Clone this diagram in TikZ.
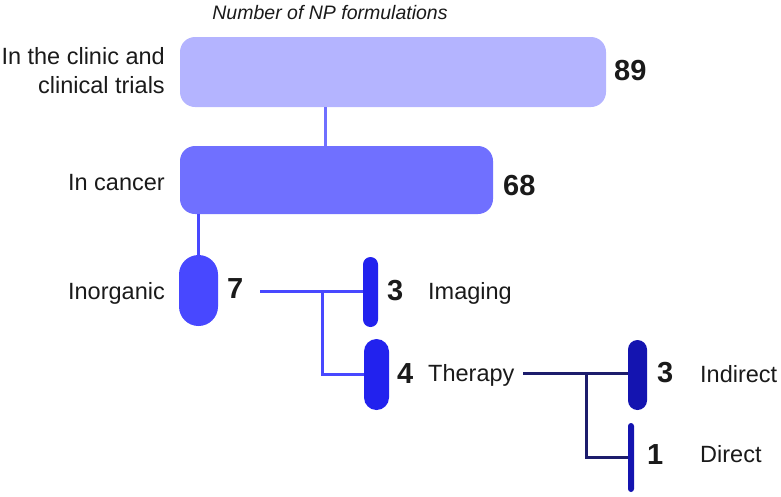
\documentclass[tikz,border=0pt]{standalone}
\usepackage{fontspec}
\setmainfont{Liberation Sans}
\definecolor{ink}{HTML}{1A1A1A}
\definecolor{clinicfill}{HTML}{B4B4FF}
\definecolor{cancerfill}{HTML}{7070FF}
\definecolor{inorgfill}{HTML}{4848FF}
\definecolor{imagfill}{HTML}{2222EE}
\definecolor{indfill}{HTML}{1414B0}
\definecolor{navy}{HTML}{1C1C6C}
\begin{document}
\begin{tikzpicture}[x=1pt,y=-1pt,
  bar/.style={fill=#1, draw=none, inner sep=0pt},
  lab/.style={font=\fontsize{23.5}{29}\selectfont, text=ink, inner sep=0pt},
  num/.style={font=\fontsize{29}{30}\selectfont\bfseries, text=ink, inner sep=0pt},
  link/.style={line width=3pt, draw=#1}]
\useasboundingbox (0,0) rectangle (781,496);
%\small
\node[font=\fontsize{19.5}{22}\selectfont\itshape, text=ink, inner sep=0pt, anchor=base] (title) at (330,19) {Number of NP formulations};
\node[bar=clinicfill, minimum width=426pt, minimum height=70pt, rounded corners=15pt] (clinic) at (393,72) {};
\node[bar=cancerfill, minimum width=313pt, minimum height=68pt, rounded corners=15pt] (cancer) at (336.5,180) {};
\node[bar=inorgfill, minimum width=39pt, minimum height=71pt, rounded corners=19.5pt] (inorg) at (198.5,290.5) {};
\node[bar=imagfill, minimum width=15pt, minimum height=70pt, rounded corners=7.5pt] (imaging) at (370.5,292) {};
\node[bar=imagfill, minimum width=25pt, minimum height=71pt, rounded corners=12.5pt] (therapy) at (376.5,374.5) {};
\node[bar=indfill, minimum width=19pt, minimum height=70pt, rounded corners=9.5pt] (indirect) at (637.5,375) {};
\node[bar=indfill, minimum width=6pt, minimum height=69pt, rounded corners=3pt] (direct) at (631,457.5) {};
% labels
\node[lab, align=right, anchor=east] (clinicLab) at (165,71) {In the clinic and\\clinical trials};
\node[lab, anchor=base east] (cancerLab) at (165,190) {In cancer};
\node[lab, anchor=base east] (inorgLab) at (165,299) {Inorganic};
\node[lab, anchor=base west] (imagingLab) at (428,299) {Imaging};
\node[lab, anchor=base west] (therapyLab) at (428,381) {Therapy};
\node[lab, anchor=base west] (indirectLab) at (700,382) {Indirect};
\node[lab, anchor=base west] (directLab) at (700,462) {Direct};
\node[num, anchor=base west] (nClinic) at (614,80) {89};
\node[num, anchor=base west] (nCancer) at (503,195) {68};
\node[num, anchor=base west] (nInorg) at (227,298) {7};
\node[num, anchor=base west] (nImaging) at (387,300) {3};
\node[num, anchor=base west] (nTherapy) at (397,383) {4};
\node[num, anchor=base west] (nIndirect) at (657,382) {3};
\node[num, anchor=base west] (nDirect) at (647,464) {1};
% connectors
\draw[link=cancerfill] ([xshift=-68pt]clinic.south) -- ([xshift=-11.5pt]cancer.north);
\draw[link=inorgfill] (cancer.south -| inorg.north) -- (inorg.north);
\coordinate (inorgOut) at (260,291);
\coordinate (split1) at (322,291);
\draw[link=inorgfill] (inorgOut) -- (inorgOut -| imaging.west);
\draw[link=inorgfill] (split1) |- (therapy.west);
\coordinate (therOut) at (523,373);
\coordinate (split2) at (586,373);
\draw[link=navy] (therOut) -- (therOut -| indirect.west);
\draw[link=navy] (split2) |- (direct.west);
\end{tikzpicture}
\end{document}
